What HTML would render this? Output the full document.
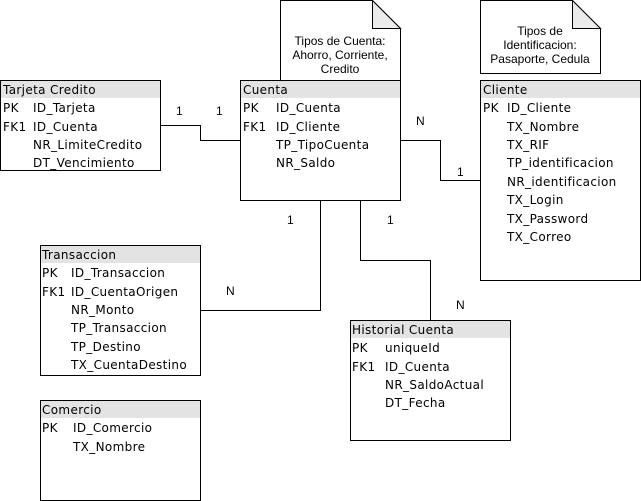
<!DOCTYPE html>
<html><head><style>
html,body{margin:0;padding:0;background:#fff;width:641px;height:501px;overflow:hidden}
svg text{font-family:"DejaVu Sans","Liberation Sans",sans-serif;font-size:12px;letter-spacing:0.35px;fill:#000}
svg text.n{font-family:"Liberation Sans",sans-serif;font-size:12px;letter-spacing:0}
</style></head><body>
<svg width="641" height="501" xmlns="http://www.w3.org/2000/svg">
<g fill="none" stroke="#000" stroke-width="1">
<polyline points="160.5,125.5 200.5,125.5 200.5,140.5 240.5,140.5"/>
<polyline points="400.5,140.5 440.5,140.5 440.5,180.5 480.5,180.5"/>
<polyline points="320.5,200.5 320.5,310.5 200.5,310.5"/>
<polyline points="360.5,200.5 360.5,260.5 430.5,260.5 430.5,320.5"/>
<path d="M280.5,0.5 H372.5 L400.5,28.5 V80.5 H280.5 Z"/>
<path d="M372.5,0.5 V28.5 H400.5 Z" fill="#ebebeb"/>
<path d="M480.5,0.5 H572.5 L600.5,28.5 V73.5 H480.5 Z"/>
<path d="M572.5,0.5 V28.5 H600.5 Z" fill="#ebebeb"/>
</g>
<g stroke="#000" stroke-width="1">
<rect x="0.5" y="80.5" width="160" height="90" fill="#fff"/><rect x="1" y="81" width="159" height="17" fill="#e3e3e3" stroke="none"/>
<rect x="240.5" y="80.5" width="160" height="120" fill="#fff"/><rect x="241" y="81" width="159" height="17" fill="#e3e3e3" stroke="none"/>
<rect x="480.5" y="80.5" width="160" height="200" fill="#fff"/><rect x="481" y="81" width="159" height="17" fill="#e3e3e3" stroke="none"/>
<rect x="40.5" y="245.5" width="160" height="130" fill="#fff"/><rect x="41" y="246" width="159" height="17" fill="#e3e3e3" stroke="none"/>
<rect x="40.5" y="400.5" width="160" height="100" fill="#fff"/><rect x="41" y="401" width="159" height="17" fill="#e3e3e3" stroke="none"/>
<rect x="350.5" y="320.5" width="160" height="120" fill="#fff"/><rect x="351" y="321" width="159" height="17" fill="#e3e3e3" stroke="none"/>
</g>
<text class="n" x="340" y="45" text-anchor="middle">Tipos de Cuenta:</text>
<text class="n" x="340" y="59" text-anchor="middle">Ahorro, Corriente,</text>
<text class="n" x="340" y="73" text-anchor="middle">Credito</text>
<text class="n" x="540" y="35" text-anchor="middle">Tipos de</text>
<text class="n" x="540" y="49" text-anchor="middle">Identificacion:</text>
<text class="n" x="540" y="63" text-anchor="middle">Pasaporte, Cedula</text>
<text class="n" x="176" y="115">1</text><text class="n" x="216" y="115">1</text>
<text class="n" x="416" y="125">N</text><text class="n" x="457" y="176">1</text>
<text class="n" x="287" y="224">1</text><text class="n" x="387" y="224">1</text>
<text class="n" x="226" y="295">N</text><text class="n" x="456" y="309">N</text>
<text x="3" y="94">Tarjeta Credito</text>
<text x="3" y="112">PK</text><text x="33" y="112">ID_Tarjeta</text>
<text x="3" y="131">FK1</text><text x="33" y="131">ID_Cuenta</text>
<text x="33" y="149">NR_LimiteCredito</text>
<text x="33" y="167">DT_Vencimiento</text>
<text x="243" y="94">Cuenta</text>
<text x="243" y="112">PK</text><text x="276" y="112">ID_Cuenta</text>
<text x="243" y="131">FK1</text><text x="276" y="131">ID_Cliente</text>
<text x="276" y="149">TP_TipoCuenta</text>
<text x="276" y="167">NR_Saldo</text>
<text x="483" y="94">Cliente</text>
<text x="483" y="112">PK</text><text x="507" y="112">ID_Cliente</text>
<text x="507" y="131">TX_Nombre</text>
<text x="507" y="149">TX_RIF</text>
<text x="507" y="167">TP_identificacion</text>
<text x="507" y="186">NR_identificacion</text>
<text x="507" y="204">TX_Login</text>
<text x="507" y="223">TX_Password</text>
<text x="507" y="241">TX_Correo</text>
<text x="42" y="259">Transaccion</text>
<text x="42" y="277">PK</text><text x="71" y="277">ID_Transaccion</text>
<text x="42" y="296">FK1</text><text x="71" y="296">ID_CuentaOrigen</text>
<text x="71" y="314">NR_Monto</text>
<text x="71" y="332">TP_Transaccion</text>
<text x="71" y="351">TP_Destino</text>
<text x="71" y="369">TX_CuentaDestino</text>
<text x="42" y="414">Comercio</text>
<text x="42" y="432">PK</text><text x="73" y="432">ID_Comercio</text>
<text x="73" y="451">TX_Nombre</text>
<text x="352" y="334">Historial Cuenta</text>
<text x="352" y="352">PK</text><text x="385" y="352">uniqueId</text>
<text x="352" y="371">FK1</text><text x="385" y="371">ID_Cuenta</text>
<text x="385" y="389">NR_SaldoActual</text>
<text x="385" y="407">DT_Fecha</text>
</svg>
</body></html>
